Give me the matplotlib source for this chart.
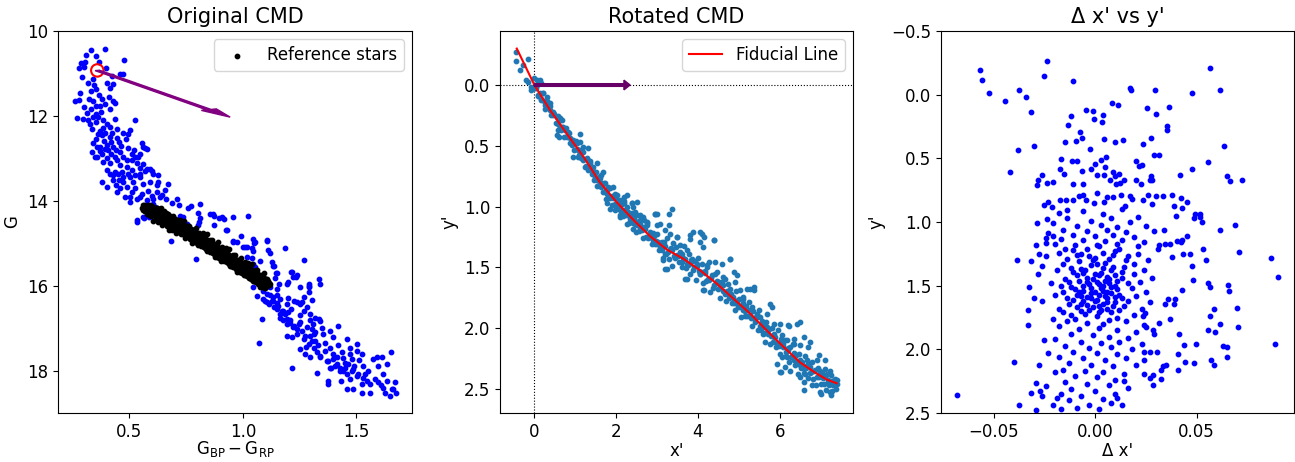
import numpy as np
import matplotlib
matplotlib.use("Agg")
import matplotlib.pyplot as plt

plt.rcParams['font.family'] = ['DejaVu Sans']
plt.rcParams['font.size'] = 12

# ---------------- Left panel: original CMD (colour, G) ----------------
cmd_all = [
 (0.393,10.42),(0.330,10.45),(0.308,10.56),(0.353,10.58),(0.286,10.75),(0.305,10.73),(0.278,10.87),(0.478,10.69),
 (0.367,10.72),(0.299,10.85),(0.397,10.88),(0.290,11.08),(0.339,11.13),(0.320,11.22),(0.459,11.02),(0.471,11.02),
 (0.422,11.06),(0.400,11.22),(0.344,11.28),(0.353,11.36),(0.415,11.35),(0.430,11.24),(0.331,11.41),(0.324,11.61),
 (0.339,11.65),(0.261,11.65),(0.280,11.63),(0.378,11.61),(0.393,11.72),(0.430,11.65),(0.437,11.69),(0.353,11.77),
 (0.371,11.77),(0.415,11.83),(0.312,11.93),(0.268,12.04),(0.374,11.90),(0.341,12.02),(0.363,12.02),(0.297,12.08),
 (0.525,12.10),(0.437,12.08),(0.400,12.18),(0.327,12.18),(0.334,12.30),(0.385,12.28),(0.415,12.27),(0.363,12.42),
 (0.378,12.46),(0.496,12.42),(0.503,12.34),(0.415,12.50),(0.444,12.53),(0.341,12.65),(0.356,12.73),(0.400,12.69),
 (0.430,12.73),(0.555,12.65),(0.569,12.75),(0.349,12.97),(0.378,12.89),(0.459,12.85),(0.474,12.97),(0.510,12.89),
 (0.540,12.97),(0.385,13.09),(0.415,13.12),(0.444,13.05),(0.488,13.20),(0.532,13.12),(0.400,13.28),(0.437,13.32),
 (0.466,13.32),(0.496,13.36),(0.525,13.40),(0.547,13.44),(0.591,13.24),(0.606,13.36),(0.628,13.40),
 (0.430,13.52),(0.452,13.38),(0.474,13.56),(0.505,13.45),(0.518,13.56),(0.547,13.36),(0.562,13.13),(0.576,13.24),
 (0.598,13.30),(0.672,13.60),(0.444,13.80),(0.481,13.91),(0.510,13.80),(0.532,13.95),(0.554,13.83),(0.584,13.76),
 (0.620,13.80),(0.635,13.91),(0.503,14.03),(0.576,13.99),(0.606,14.07),(0.532,14.46),(0.562,14.39),(0.591,14.31),
 (0.628,13.56),(0.378,13.56),(0.400,13.68),(0.415,13.36),(0.356,12.97),(0.334,12.85),(0.371,12.73),(0.407,12.81),
 (0.437,12.97),(0.488,13.05),(0.525,12.97),(0.547,12.89),(0.562,12.73),(0.576,12.77),
 (0.318,12.10),(0.352,12.15),(0.372,12.36),(0.392,12.40),(0.425,12.40),(0.352,12.55),(0.388,12.60),(0.420,12.62),
 (0.455,12.62),(0.372,12.82),(0.420,12.90),(0.440,12.80),(0.495,12.75),(0.402,13.00),(0.458,13.15),(0.512,13.05),
 (0.545,13.22),(0.470,13.45),(0.440,13.62),(0.490,13.68),(0.525,13.70),(0.560,13.60),(0.590,13.55),(0.600,13.88),
 (0.655,13.75),(0.460,13.70),(0.505,13.90),(0.545,13.92),(0.575,14.10),(0.615,14.15),(0.330,11.85),(0.355,11.95),
 (0.300,11.78),(0.285,11.45),(0.365,11.50),(0.410,11.55),(0.385,12.10),(0.445,12.30),(0.470,12.40),(0.485,12.55),
 (0.395,12.78),(0.465,12.72),(0.520,12.80),(0.430,13.40),(0.455,13.52),(0.510,13.28),(0.570,13.30),(0.620,13.62),
 (0.660,13.95),(0.690,14.05),
 (0.711,13.97),(0.720,14.09),(0.643,13.87),(0.760,14.17),(0.770,14.13),(0.811,14.07),(0.804,14.29),(0.811,14.40),
 (0.855,14.30),(0.873,14.37),(0.896,14.41),(0.917,14.44),(1.024,14.37),(0.873,14.56),(0.925,14.68),(0.804,14.58),
 (0.808,14.50),(0.753,14.54),(0.738,14.38),(0.723,14.35),(0.992,14.83),(0.958,14.96),(0.973,14.96),(1.010,15.09),
 (1.020,15.08),(1.046,14.90),(1.054,14.98),(1.039,15.34),(0.565,14.40),(0.533,14.49),(0.682,14.95),(0.794,15.37),
 (0.588,14.38),(0.606,13.97),(1.049,15.00),(1.105,14.92),(1.112,15.17),(1.120,15.23),(1.186,15.12),(1.042,15.11),
 (1.046,15.19),(1.046,15.49),(1.054,15.57),(1.127,15.45),(1.137,15.53),(1.146,15.71),(1.143,15.82),(1.215,15.67),
 (1.233,15.80),(1.240,15.76),(1.270,15.39),(1.161,15.97),(1.152,16.08),(1.193,15.96),(1.200,15.92),(1.289,15.97),
 (1.293,16.04),(1.337,15.84),(1.212,15.68),(1.303,16.33),(1.083,16.78),(1.073,17.34),(1.217,17.93),(1.271,16.26),
 (0.907,14.39),(0.870,14.31),(0.958,14.39),(0.929,14.70),(0.958,14.94),(1.105,14.94),(1.002,15.09),(1.017,15.33),
 (1.076,15.41),(1.134,15.53),(1.149,15.69),(1.222,15.80),(1.289,16.00),(0.672,14.39),(1.061,16.24),(1.090,16.31),
 (1.046,16.04),(1.105,16.39),(1.127,16.35),
 (1.223,16.35),(1.237,16.39),(1.252,16.43),(1.120,16.23),(1.134,16.27),(1.149,16.22),(1.164,16.31),(1.098,16.35),
 (1.113,16.43),(1.135,16.51),(1.149,16.55),(1.171,16.59),(1.186,16.67),(1.164,16.75),(1.178,16.82),(1.196,16.90),
 (1.208,16.82),(1.223,16.94),(1.252,16.86),(1.281,16.97),(1.303,17.02),(1.318,17.10),(1.296,16.82),(1.333,16.78),
 (1.193,17.18),(1.215,17.22),(1.237,17.14),(1.267,17.26),(1.296,17.18),(1.318,17.30),(1.311,17.46),(1.252,17.49),
 (1.274,17.61),(1.296,17.69),(1.326,17.57),(1.340,17.65),(1.362,17.53),(1.384,17.46),(1.399,17.61),(1.413,17.69),
 (1.436,17.57),(1.450,17.81),(1.472,17.61),(1.480,17.73),(1.370,17.77),(1.384,17.93),(1.406,17.89),(1.428,18.01),
 (1.450,17.93),(1.458,18.08),(1.480,18.01),(1.502,18.12),(1.531,17.89),(1.538,18.08),(1.326,18.05),(1.377,18.24),
 (1.377,18.32),(1.458,18.44),(1.487,18.44),(1.524,18.32),(1.546,18.24),(1.575,17.73),(1.590,17.69),(1.612,17.67),
 (1.597,17.89),(1.619,18.08),(1.634,17.85),(1.653,17.56),(1.671,18.27),(1.660,18.44),(1.674,18.52),(1.626,18.54),
 (1.648,18.59),(1.560,18.54),(1.524,18.54),
 (1.193,16.79),(1.208,16.87),(1.222,16.98),(1.245,16.91),(1.259,17.06),(1.274,17.18),(1.289,17.38),(1.303,17.30),
 (1.311,17.14),(1.340,17.69),(1.377,17.77),(1.399,17.73),(1.413,17.85),(1.428,17.93),(1.443,18.01),(1.465,17.85),
 (1.487,17.97),(1.509,18.09),(1.531,18.17),(1.560,18.32),(1.597,18.28),(1.619,18.40),(1.634,18.24),(1.656,18.44),
 (1.134,16.35),(1.156,16.47),(1.178,16.59),(1.164,16.67),(1.193,16.43),(1.200,16.28),(1.259,16.39),(1.281,16.51),
 (1.296,16.67),(1.318,16.75),(1.340,16.83),(1.384,17.06),(1.399,17.22),(1.355,17.14),(1.421,16.94),(1.457,17.26),
 (1.472,17.46),(1.501,17.54),(1.524,17.61),(1.501,17.38),(1.105,16.20),(1.090,16.12),(1.120,16.04),(1.252,16.04),
 (1.289,16.16),(1.340,15.96),
 (1.150,16.40),(1.210,16.55),(1.250,16.70),(1.270,16.60),(1.310,16.90),(1.350,17.00),(1.360,17.35),(1.420,17.40),
 (1.440,17.70),(1.490,17.90),(1.510,17.75),(1.550,18.00),(1.580,18.20),(1.610,18.33),(1.200,16.62),(1.240,17.02),
 (1.280,17.45),(1.330,17.40),(1.390,17.95),(1.470,18.20),(1.430,18.25),
]

ref_stars = [
 (0.560,14.10),(0.556,14.16),(0.565,14.21),(0.571,14.13),(0.568,14.24),(0.575,14.18),(0.582,14.09),(0.578,14.27),
 (0.584,14.20),(0.590,14.15),(0.593,14.30),(0.588,14.23),(0.600,14.12),(0.604,14.20),(0.597,14.30),(0.605,14.25),
 (0.612,14.18),(0.608,14.34),(0.614,14.27),(0.620,14.16),(0.623,14.24),(0.617,14.35),(0.625,14.30),(0.632,14.20),
 (0.628,14.38),(0.634,14.28),(0.640,14.22),(0.643,14.32),(0.637,14.43),(0.645,14.36),(0.652,14.25),(0.648,14.47),
 (0.654,14.33),(0.660,14.28),(0.663,14.38),(0.657,14.50),(0.665,14.44),(0.672,14.31),(0.668,14.54),(0.674,14.40),
 (0.680,14.35),(0.683,14.45),(0.677,14.58),(0.685,14.50),(0.692,14.38),(0.688,14.60),(0.694,14.47),(0.700,14.42),
 (0.703,14.52),(0.697,14.63),(0.705,14.56),(0.712,14.45),(0.708,14.68),(0.714,14.54),(0.720,14.50),(0.723,14.59),
 (0.717,14.70),(0.725,14.63),(0.732,14.52),(0.728,14.74),(0.734,14.61),(0.740,14.57),(0.743,14.66),(0.737,14.78),
 (0.745,14.70),(0.752,14.60),(0.748,14.82),(0.754,14.68),(0.760,14.63),(0.763,14.73),(0.757,14.85),(0.765,14.77),
 (0.772,14.67),(0.768,14.88),(0.774,14.76),(0.780,14.70),(0.783,14.80),(0.777,14.92),(0.785,14.84),(0.792,14.74),
 (0.788,14.95),(0.794,14.83),(0.800,14.78),(0.803,14.87),(0.797,14.99),(0.805,14.91),(0.812,14.81),(0.808,15.02),
 (0.814,14.90),(0.820,14.85),(0.823,14.94),(0.817,15.06),(0.825,14.98),(0.832,14.88),(0.828,15.09),(0.834,14.97),
 (0.840,14.92),(0.843,15.01),(0.837,15.13),(0.845,15.05),(0.852,14.95),(0.848,15.16),(0.854,15.04),(0.860,14.99),
 (0.863,15.08),(0.857,15.20),(0.865,15.12),(0.872,15.03),(0.868,15.24),(0.874,15.11),(0.880,15.06),(0.883,15.15),
 (0.877,15.27),(0.885,15.19),(0.892,15.10),(0.888,15.31),(0.894,15.18),(0.900,15.13),(0.903,15.22),(0.897,15.34),
 (0.905,15.26),(0.912,15.17),(0.908,15.38),(0.914,15.25),(0.920,15.21),(0.923,15.30),(0.917,15.42),(0.925,15.34),
 (0.932,15.24),(0.928,15.45),(0.934,15.32),(0.940,15.28),(0.943,15.37),(0.937,15.49),(0.945,15.41),(0.952,15.31),
 (0.948,15.53),(0.954,15.40),(0.960,15.35),(0.963,15.44),(0.957,15.56),(0.965,15.48),(0.972,15.39),(0.968,15.60),
 (0.974,15.47),(0.980,15.42),(0.983,15.51),(0.977,15.63),(0.985,15.55),(0.992,15.46),(0.988,15.67),(0.994,15.54),
 (1.000,15.49),(1.003,15.58),(0.997,15.70),(1.005,15.62),(1.012,15.53),(1.008,15.74),(1.014,15.61),(1.020,15.57),
 (1.023,15.66),(1.017,15.78),(1.025,15.70),(1.032,15.60),(1.028,15.81),(1.034,15.69),(1.040,15.64),(1.043,15.73),
 (1.037,15.85),(1.045,15.77),(1.052,15.67),(1.048,15.88),(1.054,15.76),(1.060,15.71),(1.063,15.80),(1.057,15.92),
 (1.065,15.84),(1.072,15.75),(1.068,15.96),(1.074,15.83),(1.080,15.79),(1.083,15.87),(1.077,15.99),(1.085,15.91),
 (1.092,15.82),(1.088,16.03),(1.094,15.90),(1.100,15.86),(1.103,15.95),(1.097,16.06),(1.110,15.90),(1.113,15.99),
 (1.120,15.95),
 (0.560,14.22),(0.564,14.10),(0.568,14.25),(0.572,14.19),(0.576,14.32),(0.580,14.17),(0.584,14.24),(0.588,14.33),
 (0.592,14.11),(0.596,14.35),(0.600,14.22),(0.604,14.48),(0.608,14.17),(0.612,14.35),(0.616,14.32),(0.620,14.44),
 (0.624,14.17),(0.628,14.51),(0.632,14.29),(0.636,14.45),(0.640,14.18),(0.644,14.58),(0.648,14.40),(0.652,14.53),
 (0.656,14.32),(0.660,14.51),(0.664,14.30),(0.668,14.60),(0.672,14.45),(0.676,14.70),(0.680,14.41),(0.684,14.54),
 (0.688,14.69),(0.692,14.35),(0.696,14.64),(0.700,14.50),(0.704,14.76),(0.708,14.46),(0.712,14.64),(0.716,14.61),
 (0.720,14.73),(0.724,14.46),(0.728,14.79),(0.732,14.58),(0.736,14.74),(0.740,14.47),(0.744,14.87),(0.748,14.69),
 (0.752,14.81),(0.756,14.60),(0.760,14.80),(0.764,14.59),(0.768,14.89),(0.772,14.74),(0.776,14.99),(0.780,14.69),
 (0.784,14.82),(0.788,14.98),(0.792,14.64),(0.796,14.93),(0.800,14.79),(0.804,15.05),(0.808,14.75),(0.812,14.93),
 (0.816,14.91),(0.820,15.03),(0.824,14.77),(0.828,15.10),(0.832,14.88),(0.836,15.05),(0.840,14.78),(0.844,15.19),
 (0.848,15.01),(0.852,15.13),(0.856,14.93),(0.860,15.12),(0.864,14.92),(0.868,15.22),(0.872,15.07),(0.876,15.33),
 (0.880,15.03),(0.884,15.17),(0.888,15.32),(0.892,14.98),(0.896,15.28),(0.900,15.14),(0.904,15.41),(0.908,15.10),
 (0.912,15.29),(0.916,15.26),(0.920,15.38),(0.924,15.12),(0.928,15.45),(0.932,15.24),(0.936,15.40),(0.940,15.13),
 (0.944,15.54),(0.948,15.36),(0.952,15.49),(0.956,15.28),(0.960,15.47),(0.964,15.27),(0.968,15.57),(0.972,15.43),
 (0.976,15.68),(0.980,15.39),(0.984,15.52),(0.988,15.67),(0.992,15.34),(0.996,15.63),(1.000,15.50),(1.004,15.76),
 (1.008,15.45),(1.012,15.64),(1.016,15.61),(1.020,15.74),(1.024,15.47),(1.028,15.80),(1.032,15.59),(1.036,15.75),
 (1.040,15.49),(1.044,15.89),(1.048,15.72),(1.052,15.84),(1.056,15.63),(1.060,15.83),(1.064,15.62),(1.068,15.93),
 (1.072,15.78),(1.076,16.03),(1.080,15.74),(1.084,15.87),(1.088,16.03),(1.092,15.69),(1.096,15.98),(1.100,15.85),
 (1.104,16.03),(1.108,15.85),(1.112,15.99),(1.116,15.93),
]

ref_point = (0.359, 10.93)
arrow_left = (0.585, 1.10)

# ---------------- Middle panel: rotated CMD ----------------
rot_stars = [
 (-0.455,-0.27),(-0.455,-0.198),(-0.16,-0.214),(-0.35,-0.124),(-0.27,-0.165),(-0.20,-0.04),(-0.147,-0.022),
 (-0.09,0.014),(-0.09,0.04),(-0.02,-0.055),(0.06,-0.04),(0.14,-0.04),(0.155,-0.014),(0.04,0.027),
 (0.098,0.082),(0.156,0.124),(0.22,0.068),(0.30,0.096),(0.384,0.146),(0.26,0.165),(0.384,0.206),(0.465,0.233),
 (0.587,0.256),(0.628,0.289),(0.67,0.344),(0.587,0.371),(0.611,0.426),(0.75,0.371),(0.83,0.385),(0.873,0.481),
 (0.914,0.495),(1.037,0.481),(1.117,0.467),(1.076,0.536),(1.198,0.509),(1.32,0.522),(1.076,0.591),(0.954,0.591),
 (1.198,0.618),(1.28,0.604),(1.24,0.673),(1.36,0.646),(1.44,0.673),(1.525,0.646),(1.606,0.769),(1.687,0.714),
 (1.484,0.756),(1.403,0.70),(1.32,0.70),(1.606,0.797),(1.73,0.81),(1.81,0.838),(1.93,0.838),(1.77,0.893),
 (1.89,0.92),(1.97,0.893),(1.85,0.934),(2.01,0.975),(2.10,0.948),(2.18,0.92),(2.26,0.907),(2.38,0.975),
 (1.97,1.03),(2.10,1.03),(2.26,1.044),(2.42,1.003),(2.50,1.07),(2.58,1.14),(2.46,1.14),(2.34,1.086),
 (2.665,1.086),(2.75,1.127),(2.95,1.058),(3.36,1.022),(0.547,0.412),(0.79,0.426),(1.118,0.407),(0.63,0.343),
 (0.67,0.288),(0.465,0.22),(0.30,0.13),
 (1.77,0.975),(1.85,1.017),(2.05,1.003),(2.17,1.03),(2.09,1.072),(2.30,1.058),(2.34,1.099),(2.26,1.14),
 (2.46,1.072),(2.50,1.127),(2.58,1.168),(2.67,1.113),(2.42,1.182),(2.38,0.975),(2.50,0.962),(2.18,0.975),
 (2.58,1.072),(2.75,1.154),(2.83,1.209),(2.95,1.058),(3.0,1.154),(3.07,1.14),(3.2,1.195),(3.28,1.154),
 (3.32,1.223),(2.91,1.278),(3.03,1.291),(3.15,1.305),(3.2,1.388),(3.15,1.442),(3.24,1.511),(3.36,1.36),
 (3.48,1.25),(3.56,1.319),(3.6,1.388),(3.72,1.36),(3.8,1.237),(3.89,1.209),(4.09,1.223),(4.05,1.291),
 (4.13,1.333),(3.85,1.429),(3.97,1.47),(3.77,1.47),(3.72,1.594),(4.05,1.539),(4.21,1.497),(4.26,1.456),
 (4.38,1.278),(4.42,1.456),(4.46,1.539),(4.58,1.47),(4.62,1.58),(4.79,1.429),(4.74,1.635),(4.87,1.539),
 (4.95,1.566),(4.91,1.621),(4.13,1.69),(5.19,1.676),(5.36,1.662),(5.03,1.69),(5.11,1.745),(4.87,1.772),
 (4.99,1.827),(5.11,1.854),(5.32,1.827),(5.44,1.882),(5.52,1.91),(5.68,1.882),(5.80,1.827),(5.68,1.992),
 (5.85,1.964),(6.01,1.964),(6.21,1.978),(6.5,1.95),(5.6,2.047),(5.85,2.075),(6.05,2.06),(6.17,2.102),
 (6.34,2.13),(6.58,2.075),(6.74,2.116),(6.01,2.212),(6.17,2.24),(6.34,2.267),(6.5,2.308),(6.66,2.267),
 (6.01,2.363),(6.5,2.404),(6.58,2.445),(6.78,2.473),(6.99,2.528),(7.23,2.528),(7.31,2.473),(7.39,2.432),
 (7.15,2.377),(6.99,2.35),(7.23,2.35),(6.91,2.267),(7.11,2.267),(6.95,2.226),(6.74,2.322),(6.62,2.377),
 (6.25,2.35),(6.13,2.322),(5.93,2.294),(6.5,2.143),(6.7,2.157),(6.34,2.088),
 (6.59,2.514),(7.0,2.54),(7.24,2.555),(7.36,2.43),(7.40,2.46),
 (3.29,1.058),(3.0,1.058),(3.49,1.255),(3.81,1.264),(4.06,1.209),(4.14,1.25),(4.38,1.277),(4.79,1.43),
 (5.28,1.676),(5.36,1.69),(6.42,1.964),(5.77,1.80),(6.22,1.98),(3.2,1.511),(3.69,1.593),(4.14,1.69),(6.02,2.363),
 (0.02,0.026),(0.06,0.002),(0.09,0.089),(0.13,0.065),(0.16,0.111),(0.21,0.068),(0.23,0.134),(0.27,0.196),
 (0.31,0.147),(0.34,0.183),(0.38,0.17),(0.41,0.249),(0.45,0.243),(0.48,0.237),(0.52,0.316),(0.55,0.261),
 (0.59,0.325),(0.62,0.269),(0.66,0.373),(0.70,0.347),(0.73,0.427),(0.77,0.35),(0.80,0.42),(0.84,0.393),
 (0.87,0.437),(0.91,0.481),(0.94,0.449),(0.98,0.538),(1.01,0.457),(1.05,0.53),(1.08,0.574),(1.12,0.538),
 (1.15,0.597),(1.19,0.55),(1.22,0.605),(1.26,0.667),(1.29,0.612),(1.33,0.678),(1.36,0.624),(1.40,0.73),
 (1.43,0.706),(1.47,0.782),(1.50,0.718),(1.54,0.833),(1.57,0.76),(1.61,0.812),(1.64,0.744),(1.68,0.88),
 (1.71,0.804),(1.75,0.94),(1.78,0.864),(1.82,0.92),(1.85,0.844),(1.89,0.988),(1.92,0.928),(1.96,0.912),
 (1.99,0.996),(2.03,0.907),(2.06,0.997),(2.10,1.084),(2.13,0.982),(2.17,1.077),(2.20,0.951),(2.24,1.07),
 (2.27,1.008),(2.31,1.135),(2.34,1.081),(2.38,1.056),(2.41,1.138),(2.45,1.048),(2.48,1.21),(2.52,1.127),
 (2.55,1.201),(2.59,1.11),(2.62,1.184),(2.66,1.261),(2.69,1.167),(2.73,1.252),(2.76,1.134),(2.80,1.251),
 (2.83,1.221),(2.87,1.312),(2.90,1.216),(2.94,1.307),(2.97,1.283),(3.01,1.224),(3.04,1.362),(3.08,1.322),
 (3.11,1.29),(3.15,1.421),(3.18,1.289),(3.22,1.389),(3.25,1.257),(3.29,1.434),(3.32,1.35),(3.36,1.487),
 (3.39,1.303),(3.43,1.421),(3.46,1.336),(3.50,1.404),(3.53,1.459),(3.57,1.377),(3.60,1.502),(3.64,1.42),
 (3.67,1.327),(3.71,1.506),(3.74,1.473),(3.78,1.392),(3.81,1.559),(3.85,1.449),(3.88,1.526),(3.92,1.445),
 (3.95,1.601),(3.99,1.421),(4.02,1.528),(4.06,1.558),(4.09,1.476),(4.13,1.626),(4.16,1.544),(4.20,1.615),
 (4.23,1.483),(4.27,1.604),(4.30,1.702),(4.34,1.563),(4.37,1.671),(4.41,1.552),(4.44,1.63),(4.48,1.681),
 (4.51,1.62),(4.55,1.752),(4.58,1.622),(4.62,1.694),(4.65,1.593),(4.69,1.775),(4.72,1.694),(4.76,1.757),
 (4.79,1.676),(4.83,1.798),(4.86,1.747),(4.90,1.849),(4.93,1.698),(4.97,1.81),(5.00,1.759),(5.04,1.911),
 (5.07,1.82),(5.11,1.762),(5.14,1.901),(5.18,1.823),(5.21,1.902),(5.25,1.784),(5.28,1.893),(5.32,1.987),
 (5.35,1.857),(5.39,1.951),(5.42,1.911),(5.46,2.015),(5.49,1.855),(5.53,2.019),(5.56,1.939),(5.60,1.993),
 (5.63,2.113),(5.67,1.947),(5.70,2.047),(5.74,2.01),(5.77,2.129),(5.81,2.002),(5.84,2.112),(5.88,2.075),
 (5.91,2.155),(5.95,2.018),(5.98,2.148),(6.02,2.091),(6.05,2.241),(6.09,2.155),(6.12,2.095),(6.16,2.227),
 (6.19,2.167),(6.23,2.279),(6.26,2.159),(6.30,2.242),(6.33,2.131),(6.37,2.304),(6.40,2.223),(6.44,2.376),
 (6.47,2.216),(6.51,2.327),(6.54,2.284),(6.58,2.373),(6.61,2.229),(6.65,2.328),(6.68,2.415),(6.72,2.294),
 (6.75,2.371),(6.79,2.28),(6.82,2.417),(6.86,2.346),(6.89,2.473),(6.93,2.331),(6.96,2.407),(7.00,2.465),
 (7.03,2.371),(7.07,2.459),(7.10,2.335),(7.14,2.513),(7.17,2.428),(7.21,2.472),(7.24,2.386),(7.28,2.521),
 (7.31,2.455),(7.35,2.42),(7.38,2.504),
 (1.52,0.779),(1.58,0.78),(1.63,0.842),(1.69,0.816),(1.74,0.866),(1.80,0.85),(1.86,0.924),(1.91,0.914),
 (1.97,0.978),(2.02,0.947),(2.08,0.999),(2.14,0.98),(2.19,1.048),(2.25,1.049),(2.30,1.047),(2.36,1.118),
 (2.43,1.103),(2.50,1.156),(2.57,1.129),(2.64,1.192),(2.71,1.185),(2.78,1.258),(2.85,1.25),(2.92,1.239),
 (2.99,1.308),(3.06,1.297),(3.13,1.355),(3.20,1.324),(3.27,1.371),(3.34,1.344),(3.41,1.407),(3.48,1.40),
 (3.55,1.393),(3.62,1.456),(3.69,1.431),(3.76,1.478),(3.83,1.444),(3.90,1.50),(3.97,1.486),(4.04,1.553),
 (4.11,1.541),(4.18,1.529),(4.25,1.598),(4.32,1.587),(4.39,1.646),(4.46,1.615),(4.53,1.666),(4.60,1.648),
 (4.67,1.719),(4.74,1.72),(4.81,1.722),(4.88,1.793),(4.95,1.774),(5.02,1.825),(5.09,1.796),(5.16,1.857),
 (5.23,1.848),(5.30,1.92),(5.37,1.914),(5.44,1.908),(5.51,1.982),(5.58,1.976),(5.65,2.04),(5.72,2.013),
 (5.79,2.066),(5.86,2.049),(5.93,2.122),(6.00,2.125),(6.07,2.128),(6.14,2.201),(6.21,2.183),(6.28,2.235),
 (6.35,2.208),(6.42,2.27),(6.49,2.262),(6.56,2.329),(6.63,2.314),(6.70,2.30),(6.77,2.366),(6.84,2.351),
 (6.91,2.407),(6.98,2.371),(7.05,2.415),(7.12,2.389),(7.19,2.45),(7.26,2.439),(7.33,2.426),
]

fid_x = [-0.43, -0.2, 0.0, 0.38, 0.79, 1.2, 1.6, 2.0, 2.42, 2.83, 3.24, 3.64, 4.05, 4.46, 4.87, 5.27, 5.68,
         6.09, 6.5, 6.9, 7.15, 7.39]
fid_y = [-0.30, -0.14, 0.0, 0.205, 0.40, 0.59, 0.80, 0.96, 1.11, 1.245, 1.355, 1.43, 1.525, 1.635, 1.76, 1.88,
         2.02, 2.155, 2.285, 2.375, 2.425, 2.455]
arrow_mid = (2.34, 0.0)

# ---------------- Right panel: delta x' vs y' ----------------
resid = [
 (-0.0567,-0.19),(-0.0559,-0.118),(-0.0525,-0.01),(-0.0444,0.05),(-0.0375,-0.04),(-0.0343,0.018),(-0.0318,0.136),
 (-0.0239,-0.262),(-0.0251,-0.149),(-0.0107,-0.105),(-0.0302,0.403),(-0.0382,0.432),(-0.042,0.605),(0.0174,-0.055),
 (0.0175,-0.034),(0.0295,-0.034),(0.0479,-0.016),(0.0616,-0.04),(0.0567,-0.209),(0.0256,0.102),(0.0302,0.154),
 (0.0366,0.097),(0.0084,0.065),(0.0113,0.084),(-0.0046,0.123),(-0.0013,0.131),(0.0039,0.16),(-0.0005,0.191),
 (0.0034,0.212),(-0.012,0.165),(-0.0136,0.241),(-0.0075,0.293),(-0.0067,0.34),(-0.0151,0.374),(-0.0095,0.361),
 (-0.0026,0.429),(0.0043,0.346),(0.0097,0.374),(0.0139,0.353),(0.0234,0.39),(0.0277,0.34),(0.0352,0.249),
 (0.0354,0.28),(0.0633,0.406),(0.0556,0.531),(0.0289,0.476),(0.0313,0.471),(0.0479,0.586),(0.042,0.631),
 (0.0651,0.639),(0.0666,0.675),(0.0725,0.670),(0.0690,1.026),(0.0615,1.065),(0.0708,1.233),(0.0867,1.28),
 (0.0900,1.432),(0.0887,1.961),(0.0700,1.673),(0.0702,1.825),(0.0654,1.497),(0.0659,1.542),(0.0616,1.804),
 (0.0629,1.974),(0.0651,1.982),(0.0651,2.06),(0.0584,1.681),(0.0590,1.864),(0.0569,2.086),(0.0585,2.12),
 (0.0564,1.741),(0.0557,1.851),(0.0565,1.513),(0.0556,1.476),(0.0544,1.301),(0.0534,1.209),(0.0528,1.0),
 (0.0518,0.94),(0.0518,0.961),(0.0490,0.94),(0.0487,0.969),(0.0454,0.84),(0.0421,0.809),(0.0430,0.887),
 (0.0389,0.874),(0.0380,0.785),(0.0336,0.793),(0.0397,0.956),(0.0425,1.157),(0.0430,1.144),(0.0454,1.11),
 (0.0405,1.149),(0.0370,1.17),(0.0346,1.17),(0.0315,1.178),(0.0339,1.065),(0.0431,1.254),(0.0377,1.275),
 (0.0479,1.346),(0.0480,1.453),(0.0470,1.254),(0.0430,1.537),(0.0392,1.602),(0.0361,1.602),(0.0387,1.641),
 (0.0343,1.647),(0.0370,1.762),(0.0413,1.877),(0.0498,1.961),(0.0438,1.969),(0.0441,2.099),(0.0485,2.107),
 (0.0408,2.034),(0.0407,2.16),(0.0348,2.126),(0.0336,2.131),(0.0323,2.16),(0.0326,2.236),(0.0305,2.021),
 (0.0313,1.793),(0.0285,1.846),(0.0290,1.88),(0.0252,1.825),(0.0236,1.738),(0.0244,1.715),(0.0239,2.021),
 (0.0239,2.086),(0.0239,2.191),(0.0285,2.277),(0.0269,2.225),(0.0283,2.204),
 (-0.0682,2.361),(-0.0374,2.44),(-0.0398,2.1),(-0.0330,1.694),(-0.0326,1.51),(-0.0302,1.597),(-0.0387,1.301),
 (-0.0318,1.306),(-0.0293,1.183),(-0.0277,1.254),(-0.0264,1.346),(-0.0292,2.474),(-0.0272,2.327),(-0.0264,2.369),
 (-0.0275,2.126),(-0.0293,2.264),(-0.0318,2.343),(-0.0333,1.812),(-0.0289,1.005),(-0.0244,1.123),(-0.0239,0.976),
 (-0.0244,1.162),(-0.0280,0.673),(-0.0289,0.712),(-0.0261,0.628),(-0.0239,0.694),(-0.0234,0.843),(-0.0215,0.882),
 (-0.0207,0.686),(-0.0174,0.825),(-0.0144,0.825),(-0.0138,0.903),(-0.0174,0.581),(-0.0154,0.62),(-0.0166,0.503),
 (-0.0116,0.524),(-0.0089,0.524),(-0.0067,0.599),(-0.0108,0.699),(-0.0059,0.699),(-0.0018,0.581),(0.0,0.542),
 (0.001,0.628),(0.0028,0.51),(0.0052,0.49),(0.0051,0.568),(0.0044,0.628),(0.0089,0.607),(0.0097,0.641),
 (0.0102,0.699),(0.0072,0.673),(0.0116,0.62),(0.0125,0.694),(0.0141,0.667),(0.0203,0.524),(0.0216,0.563),
 (0.0233,0.55),(0.0203,0.673),(0.0226,0.699),(0.0274,0.641),(0.0269,0.673),(0.0280,0.673),(0.0261,0.79),
 (0.0302,0.798),(0.0280,0.856),(0.0234,0.83),(0.0170,0.796),(0.0184,0.822),(0.0146,0.874),(0.0126,0.785),
 (0.0089,0.804),(0.0059,0.804),(0.0011,0.772),(-0.0005,0.851),(0.0044,0.843),(-0.0043,0.83),(-0.0079,0.796),
 (-0.0059,0.785),(-0.0108,0.825),
 (-0.024,1.27),(-0.022,1.48),(-0.026,1.62),(-0.021,1.76),(-0.025,1.93),(-0.023,2.03),(-0.020,2.18),(-0.024,2.29),
 (-0.019,2.38),(-0.021,1.11),(-0.028,1.41),(-0.025,0.87),(-0.021,2.44),(-0.017,2.47),
 (-0.011,1.22),(0.004,1.24),(-0.003,1.27),(0.012,1.21),(0.007,1.29),(-0.008,1.31),(0.001,1.33),(0.015,1.30),
 (-0.012,1.36),(0.009,1.35),(-0.005,1.38),(0.003,1.40),(0.013,1.39),(-0.009,1.42),(0.006,1.43),(-0.001,1.45),
 (0.011,1.46),(-0.013,1.47),(0.002,1.49),(-0.006,1.50),(0.008,1.51),(0.016,1.48),(-0.010,1.53),(0.004,1.54),
 (-0.002,1.56),(0.012,1.57),(-0.007,1.58),(0.006,1.60),(-0.011,1.61),(0.000,1.62),(0.010,1.63),(-0.004,1.65),
 (0.014,1.66),(-0.009,1.67),(0.003,1.69),(0.008,1.71),(-0.005,1.72),(0.001,1.74),(-0.012,1.73),(0.011,1.75),
 (-0.007,1.25),(0.009,1.26),(0.000,1.28),(-0.014,1.29),(0.005,1.32),(-0.002,1.34),(0.014,1.35),(-0.007,1.37),
 (0.008,1.38),(-0.011,1.39),(0.000,1.41),(0.010,1.42),(-0.004,1.44),(0.005,1.46),(-0.008,1.46),(0.013,1.44),
 (0.001,1.47),(-0.003,1.49),(0.007,1.48),(-0.012,1.51),(0.003,1.52),(0.011,1.53),(-0.006,1.54),(0.000,1.55),
 (0.008,1.56),(-0.009,1.57),(0.005,1.58),(-0.002,1.60),(0.013,1.60),(-0.006,1.62),(0.004,1.64),(-0.013,1.64),
 (0.009,1.66),(-0.001,1.67),(0.006,1.68),(-0.007,1.70),(0.012,1.69),(0.002,1.71),(-0.010,1.76),(0.007,1.77),
 (-0.004,1.21),(0.002,1.19),(0.010,1.23),(-0.009,1.26),(0.016,1.27),(-0.001,1.30),(0.004,1.36),(-0.006,1.40),
 (0.002,1.42),(0.007,1.45),(-0.004,1.47),(0.004,1.50),(0.010,1.50),(-0.002,1.52),(-0.008,1.55),(0.006,1.55),
 (0.002,1.57),(-0.004,1.59),(0.010,1.59),(0.001,1.61),(-0.007,1.64),(0.006,1.63),(0.002,1.66),(-0.003,1.69),
 (0.016,1.62),(-0.015,1.45),(-0.016,1.55),(0.018,1.52),(0.019,1.41),(-0.014,1.60),
 (-0.018,0.93),(-0.006,0.91),(0.004,0.94),(0.013,0.90),(0.021,0.96),(-0.014,0.97),(-0.002,0.99),(0.008,0.97),
 (0.017,1.00),(-0.021,1.01),(-0.009,1.03),(0.003,1.02),(0.011,1.04),(0.025,1.03),(-0.016,1.06),(-0.004,1.07),
 (0.006,1.06),(0.015,1.08),(0.029,1.07),(-0.023,1.09),(-0.011,1.10),(0.000,1.11),(0.009,1.10),(0.019,1.12),
 (-0.017,1.13),(-0.006,1.14),(0.005,1.15),(0.013,1.14),(0.024,1.16),(-0.020,1.17),(-0.010,1.18),(0.001,1.18),
 (0.011,1.17),(0.021,1.19),(0.031,1.21),(-0.015,1.21),
 (0.021,1.25),(0.026,1.30),(0.019,1.33),(0.024,1.38),(0.028,1.44),(0.022,1.47),(0.025,1.55),(0.020,1.58),
 (0.027,1.63),(0.023,1.68),(0.019,1.73),(-0.018,1.24),(-0.016,1.33),(-0.019,1.38),(-0.017,1.50),(-0.020,1.57),
 (-0.018,1.68),(-0.016,1.71),
 (-0.014,1.78),(-0.004,1.79),(0.004,1.80),(0.015,1.78),(0.024,1.81),(-0.018,1.82),(-0.008,1.84),(0.002,1.83),
 (0.011,1.85),(0.020,1.86),(-0.012,1.88),(-0.001,1.89),(0.007,1.90),(0.016,1.91),(-0.020,1.92),(-0.007,1.94),
 (0.003,1.95),(0.012,1.94),(0.023,1.96),(-0.015,1.97),(-0.003,1.99),(0.008,1.98),(0.018,2.00),(-0.011,2.02),
 (0.001,2.03),(0.011,2.04),(0.027,2.02),(-0.018,2.06),(-0.006,2.07),(0.005,2.08),(0.015,2.07),(-0.013,2.11),
 (-0.002,2.12),(0.009,2.13),(0.020,2.12),(-0.016,2.16),(-0.005,2.17),(0.004,2.18),(0.014,2.19),(-0.010,2.21),
 (0.001,2.22),(0.010,2.24),(-0.015,2.26),(-0.004,2.27),(0.007,2.28),(0.016,2.30),(-0.012,2.31),(0.000,2.33),
 (0.010,2.35),(-0.007,2.37),(0.004,2.39),(-0.013,2.40),(0.008,2.42),(-0.003,2.44),(0.002,2.47),(-0.009,2.46),
 (0.011,2.38),(0.014,2.25),(-0.017,2.35),(0.013,2.44),
]

# ---------------- Figure ----------------
fig = plt.figure(figsize=(12.95, 4.62), dpi=100)
ax1 = fig.add_axes([0.0448, 0.106, 0.2734, 0.827])
ax2 = fig.add_axes([0.3861, 0.106, 0.2726, 0.827])
ax3 = fig.add_axes([0.7266, 0.106, 0.2726, 0.827])

ca = np.array(cmd_all)
rs = np.array(ref_stars)
ax1.scatter(ca[:, 0], ca[:, 1], s=10, color='blue', zorder=2)
ax1.scatter(rs[:, 0], rs[:, 1], s=10, color='black', label='Reference stars', zorder=3)
ax1.scatter([ref_point[0]], [ref_point[1]], s=80, facecolors='none', edgecolors='red', linewidths=1.5, zorder=4)
ax1.arrow(ref_point[0], ref_point[1], arrow_left[0], arrow_left[1], width=0.022, head_width=0.075,
          head_length=0.2, length_includes_head=True, color='purple', zorder=5)
ax1.set_xlim(0.186, 1.745)
ax1.set_ylim(19.0, 10.0)
ax1.set_xticks([0.5, 1.0, 1.5])
ax1.set_yticks([10, 12, 14, 16, 18])
ax1.set_xlabel(r'$\mathrm{G_{BP}-G_{RP}}$', labelpad=-1)
ax1.set_ylabel('G')
ax1.set_title('Original CMD', fontsize=15)
ax1.legend(loc='upper right', fontsize=12)

rt = np.array(rot_stars)
ax2.scatter(rt[:, 0], rt[:, 1], s=10, color='C0', zorder=2)
ax2.plot(fid_x, fid_y, color='red', lw=1.5, label='Fiducial Line', zorder=3)
ax2.axhline(0, color='black', ls=':', lw=0.8, zorder=1)
ax2.axvline(0, color='black', ls=':', lw=0.8, zorder=1)
ax2.arrow(0, 0, arrow_mid[0], arrow_mid[1], width=0.022, head_width=0.08, head_length=0.15,
          length_includes_head=True, color='#660066', zorder=4)
ax2.set_xlim(-0.84, 7.79)
ax2.set_ylim(2.70, -0.445)
ax2.set_xticks([0, 2, 4, 6])
ax2.set_yticks([0.0, 0.5, 1.0, 1.5, 2.0, 2.5])
ax2.set_xlabel("x'", labelpad=1)
ax2.set_ylabel("y'")
ax2.set_title('Rotated CMD', fontsize=15)
ax2.legend(loc='upper right', fontsize=12)

rd = np.array(resid)
ax3.scatter(rd[:, 0], rd[:, 1], s=10, color='blue')
ax3.set_xlim(-0.076, 0.098)
ax3.set_ylim(2.5, -0.5)
ax3.set_xticks([-0.05, 0.0, 0.05])
ax3.set_yticks([-0.5, 0.0, 0.5, 1.0, 1.5, 2.0, 2.5])
ax3.set_xlabel("Δ x'", labelpad=1)
ax3.set_ylabel("y'")
ax3.set_title("Δ x' vs y'", fontsize=15)

for ax in (ax1, ax2, ax3):
    ax.tick_params(labelsize=12)

fig.savefig('out.png', dpi=100)
